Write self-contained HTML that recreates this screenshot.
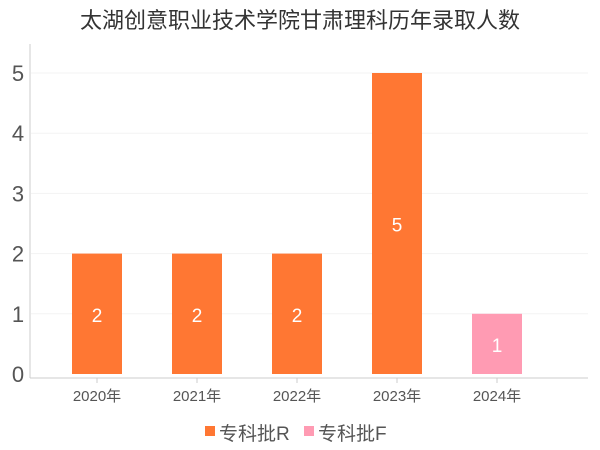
<!DOCTYPE html>
<html><head><meta charset="utf-8"><style>
body{margin:0;background:#fff;}
svg{display:block;font-family:"Liberation Sans","Noto Sans CJK SC",sans-serif;}
</style></head><body>
<svg id="c" width="600" height="450">
<text x="300" y="28" text-anchor="middle" font-size="22" fill="#333">太湖创意职业技术学院甘肃理科历年录取人数</text>
<g id="grid"></g>
<line x1="30" y1="44" x2="30" y2="378" stroke="#ccc"/>
<line x1="30" y1="378" x2="588" y2="378" stroke="#ccc"/>
<g id="bars"></g>
<g>
<rect x="205" y="426" width="10" height="10" fill="#ff7733"/>
<text x="219" y="440" font-size="19" fill="#555">专科批R</text>
<rect x="304" y="426" width="10" height="10" fill="#ff9bb3"/>
<text x="318" y="440" font-size="19" fill="#555">专科批F</text>
</g>
</svg>
<script>
const categories=["2020年","2021年","2022年","2023年","2024年"];
const seriesR=[2,2,2,5,0];
const seriesF=[0,0,0,0,1];
const yTicks=[0,1,2,3,4,5];
const NS="http://www.w3.org/2000/svg";
const y=v=>374-v*60.2;
const x=i=>97+i*100;
function mk(t,a,p){const e=document.createElementNS(NS,t);for(const k in a)e.setAttribute(k,a[k]);p.appendChild(e);return e;}
const g=document.getElementById('grid'),b=document.getElementById('bars');
yTicks.forEach(v=>{
 if(v>0){const l=mk('line',{x1:31,x2:588,y1:y(v),y2:y(v),stroke:'#f3f3f3'},g);
 
 }
 const t=mk('text',{x:18,y:y(v)+8,'text-anchor':'middle','font-size':22,fill:'#555'},g);t.textContent=v;
 
 
});
categories.forEach((c,i)=>{
 const t=mk('text',{x:x(i),y:401,'text-anchor':'middle','font-size':15,fill:'#555'},b);t.textContent=c;
 
 
 const tk=mk('line',{x1:x(i),x2:x(i),y1:378,y2:383,stroke:'#ccc'},b);
 
 
 [[seriesR,'#ff7733','r'],[seriesF,'#ff9bb3','f']].forEach(([s,col,n])=>{
  const v=s[i]; if(!v)return;
  const r=mk('rect',{x:x(i)-25,y:y(v),width:50,height:y(0)-y(v),fill:col},b);
  
  
  const l=mk('text',{x:x(i),y:(y(v)+y(0))/2+8,'text-anchor':'middle','font-size':19,fill:'#fff'},b);l.textContent=v;
  
  
 });
});
</script>
</body></html>
